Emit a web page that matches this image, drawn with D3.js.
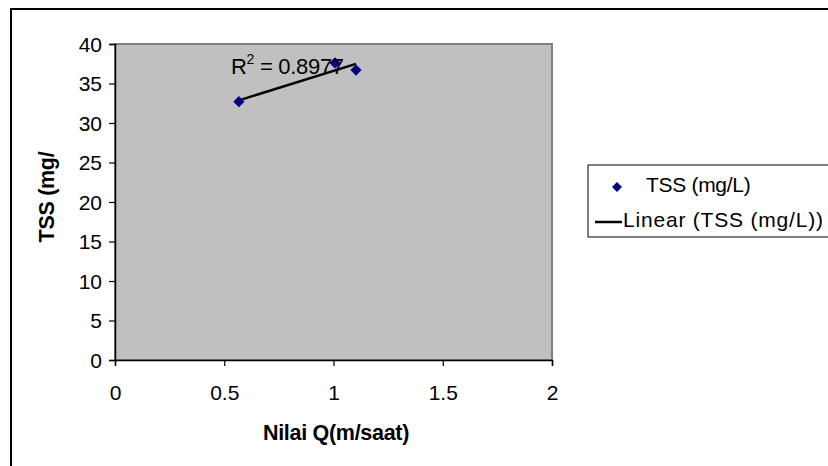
<!DOCTYPE html>
<html>
<head>
<meta charset="utf-8">
<script src="https://cdn.jsdelivr.net/npm/d3@7"></script>
<style>
  body { margin: 0; background: #fff; }
  text { font-family: "Liberation Sans", Arial, sans-serif; }
</style>
</head>
<body>
<svg width="828" height="466"></svg>
<script>
var width = 828;
var height = 466;

// data
var flowQ = [0.567, 1.007, 1.103];
var tssVals = [32.7, 37.6, 36.7];
var xTicks = [0, 0.5, 1, 1.5, 2];
var yTicks = [0, 5, 10, 15, 20, 25, 30, 35, 40];
var r2Label = "0.8977";
var legendNames = ["TSS (mg/L)", "Linear (TSS (mg/L))"];

var svg = d3.select("svg");

// outer chart border (only top and left show)
svg.append("path")
  .attr("d", "M11,466 L11,9 L828,9")
  .attr("fill", "none")
  .attr("stroke", "#000")
  .attr("stroke-width", 2);

var plotL = 115, plotR = 552, plotT = 44, plotB = 360;

var x = d3.scaleLinear().domain([0, 2]).range([plotL, plotR]);
var y = d3.scaleLinear().domain([0, 40]).range([plotB, plotT]);

// plot area
svg.append("rect")
  .attr("x", plotL).attr("y", plotT)
  .attr("width", plotR - plotL).attr("height", plotB - plotT)
  .attr("fill", "#c0c0c0")
  .attr("stroke", "#808080")
  .attr("stroke-width", 2);

// axes
var xAxis = svg.append("g")
  .attr("transform", "translate(0," + plotB + ")")
  .call(d3.axisBottom(x).tickValues(xTicks).tickSize(6).tickPadding(25)
    .tickFormat(function(d){ return d; }));
var yAxis = svg.append("g")
  .attr("transform", "translate(" + plotL + ",0)")
  .call(d3.axisLeft(y).tickValues(yTicks).tickSize(6).tickPadding(7));

[xAxis, yAxis].forEach(function(a){
  a.select(".domain").attr("stroke", "#000").attr("stroke-width", 1.5);
  a.selectAll(".tick line").attr("stroke", "#000").attr("stroke-width", 1.2);
  a.selectAll(".tick text").attr("font-size", 21).attr("fill", "#000")
    .attr("font-family", "'Liberation Sans', Arial, sans-serif");
});
xAxis.selectAll(".tick text").attr("dy", "0.71em").attr("y", 25);
yAxis.selectAll(".tick text").attr("dy", "0.35em");

// linear trendline (least squares)
var mx = d3.mean(flowQ), my = d3.mean(tssVals);
var sxy = d3.sum(flowQ, function(v, i){ return (v - mx) * (tssVals[i] - my); });
var sxx = d3.sum(flowQ, function(v){ return (v - mx) * (v - mx); });
var slope = sxy / sxx, icept = my - slope * mx;
var xMin = d3.min(flowQ), xMax = d3.max(flowQ);

svg.append("line")
  .attr("x1", x(xMin)).attr("y1", y(icept + slope * xMin))
  .attr("x2", x(xMax)).attr("y2", y(icept + slope * xMax))
  .attr("stroke", "#000")
  .attr("stroke-width", 2.5);

// points
var diamond = d3.symbol().type(d3.symbolDiamond2).size(80);
svg.selectAll("path.pt").data(flowQ)
  .enter()
  .append("path")
  .attr("class", "pt")
  .attr("d", diamond)
  .attr("transform", function(d, i){ return "translate(" + x(d) + "," + y(tssVals[i]) + ")"; })
  .attr("fill", "#000080");

// R² label
var r2 = svg.append("text")
  .attr("x", 231).attr("y", 74)
  .attr("font-size", 22)
  .attr("letter-spacing", -0.3)
  .attr("fill", "#000");
r2.append("tspan").text("R");
r2.append("tspan").attr("font-size", 14).attr("dy", -10).text("2");
r2.append("tspan").attr("dy", 10).text(" = " + r2Label);

// axis titles
svg.append("text")
  .attr("x", 336).attr("y", 440)
  .attr("text-anchor", "middle")
  .attr("font-size", 21.5)
  .attr("font-weight", "bold")
  .attr("letter-spacing", -0.3)
  .text("Nilai Q(m/saat)");

svg.append("text")
  .attr("transform", "translate(54,197) rotate(-90)")
  .attr("text-anchor", "middle")
  .attr("font-size", 21.5)
  .attr("font-weight", "bold")
  .attr("letter-spacing", -0.3)
  .text("TSS (mg/");

// legend
var legend = svg.append("g");
legend.append("rect")
  .attr("x", 588).attr("y", 165)
  .attr("width", 260).attr("height", 72)
  .attr("fill", "#fff")
  .attr("stroke", "#000")
  .attr("stroke-width", 1);
legend.append("path")
  .attr("d", d3.symbol().type(d3.symbolDiamond2).size(64))
  .attr("transform", "translate(617,187)")
  .attr("fill", "#000080");
legend.append("line")
  .attr("x1", 595).attr("x2", 622)
  .attr("y1", 222).attr("y2", 222)
  .attr("stroke", "#000").attr("stroke-width", 2.5);
legend.selectAll("text").data(legendNames)
  .enter()
  .append("text")
  .attr("x", function(d, i){ return i === 0 ? 646 : 623; })
  .attr("y", function(d, i){ return i === 0 ? 192 : 227; })
  .attr("font-size", 21)
  .attr("letter-spacing", function(d, i){ return i === 0 ? -0.3 : 0.8; })
  .attr("fill", "#000")
  .text(function(d){ return d; });
</script>
</body>
</html>
